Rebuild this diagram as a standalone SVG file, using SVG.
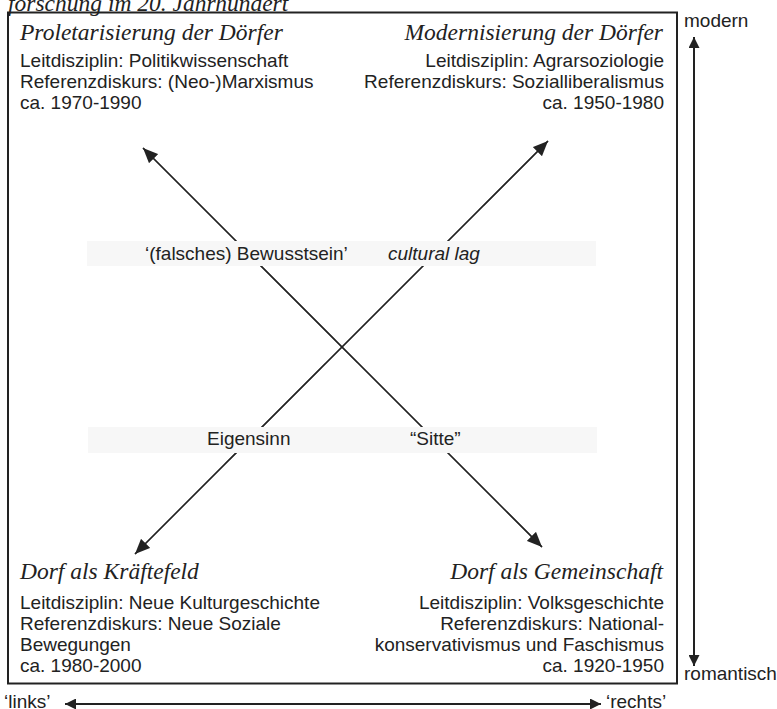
<svg xmlns="http://www.w3.org/2000/svg" width="777" height="709" viewBox="0 0 777 709">
<style>
.h{font-family:"Liberation Serif","Times New Roman",serif;font-style:italic;font-size:23.5px;fill:#222}
.b{font-family:"Liberation Sans",Arial,sans-serif;font-size:19px;fill:#222}
.i{font-style:italic}
.r{text-anchor:end}
.band{fill:#f7f7f7}
.diag{stroke:#222;stroke-width:1.3;fill:none}
.axis{stroke:#222;stroke-width:2;fill:none}
</style>
<defs>
<marker id="ah" markerUnits="userSpaceOnUse" markerWidth="15" markerHeight="13" refX="15" refY="6.5" orient="auto">
<path d="M0,0 L15,6.5 L0,13 z" fill="#222"/>
</marker>
<marker id="ax" markerUnits="userSpaceOnUse" markerWidth="11" markerHeight="11" refX="11" refY="5.5" orient="auto">
<path d="M0,0 L11,5.5 L0,11 z" fill="#222"/>
</marker>
</defs>
<rect width="777" height="709" fill="#fff"/>
<text id="title" class="h" x="8" y="11">forschung im 20. Jahrhundert</text>
<rect id="frame" x="8" y="12.5" width="669" height="671" fill="none" stroke="#222" stroke-width="2"/>
<g id="connectors">
<line class="diag" x1="542" y1="547" x2="143" y2="148" marker-end="url(#ah)"/>
<line class="diag" x1="135" y1="554" x2="548" y2="141" marker-end="url(#ah)"/>
<line class="diag" x1="143" y1="148" x2="542" y2="547" marker-end="url(#ah)"/>
<line class="diag" x1="548" y1="141" x2="135" y2="554" marker-end="url(#ah)"/>
</g>
<g id="band-top">
<rect class="band" x="87" y="241" width="509" height="25"/>
<text class="b" x="145" y="260">‘(falsches) Bewusstsein’</text>
<text class="b i" x="388" y="260">cultural lag</text>
</g>
<g id="band-bottom">
<rect class="band" x="88" y="427" width="509" height="26"/>
<text class="b" x="207" y="445">Eigensinn</text>
<text class="b" x="410" y="445">“Sitte”</text>
</g>
<g id="q-proletarisierung">
<text class="h" x="20" y="39.5">Proletarisierung der Dörfer</text>
<text class="b" x="20" y="67">Leitdisziplin: Politikwissenschaft</text>
<text class="b" x="20" y="88">Referenzdiskurs: (Neo-)Marxismus</text>
<text class="b" x="20" y="109">ca. 1970-1990</text>
</g>
<g id="q-modernisierung">
<text class="h r" x="663" y="39.5">Modernisierung der Dörfer</text>
<text class="b r" x="664" y="67">Leitdisziplin: Agrarsoziologie</text>
<text class="b r" x="664" y="88">Referenzdiskurs: Sozialliberalismus</text>
<text class="b r" x="664" y="109">ca. 1950-1980</text>
</g>
<g id="q-kraeftefeld">
<text class="h" x="20" y="579">Dorf als Kräftefeld</text>
<text class="b" x="20" y="609">Leitdisziplin: Neue Kulturgeschichte</text>
<text class="b" x="20" y="630">Referenzdiskurs: Neue Soziale</text>
<text class="b" x="20" y="651">Bewegungen</text>
<text class="b" x="20" y="672">ca. 1980-2000</text>
</g>
<g id="q-gemeinschaft">
<text class="h r" x="663" y="579">Dorf als Gemeinschaft</text>
<text class="b r" x="664" y="609">Leitdisziplin: Volksgeschichte</text>
<text class="b r" x="664" y="630">Referenzdiskurs: National-</text>
<text class="b r" x="664" y="651">konservativismus und Faschismus</text>
<text class="b r" x="664" y="672">ca. 1920-1950</text>
</g>
<g id="axis-vertical">
<line class="axis" x1="694" y1="352" x2="694" y2="37" marker-end="url(#ax)"/>
<line class="axis" x1="694" y1="352" x2="694" y2="666" marker-end="url(#ax)"/>
<text class="b" x="684" y="27">modern</text>
<text class="b" x="684" y="680">romantisch</text>
</g>
<g id="axis-horizontal">
<line class="axis" x1="335" y1="704" x2="65" y2="704" marker-end="url(#ax)"/>
<line class="axis" x1="335" y1="704" x2="601" y2="704" marker-end="url(#ax)"/>
<text class="b" x="4" y="707.5">‘links’</text>
<text class="b" x="606" y="707.5">‘rechts’</text>
</g>
</svg>
